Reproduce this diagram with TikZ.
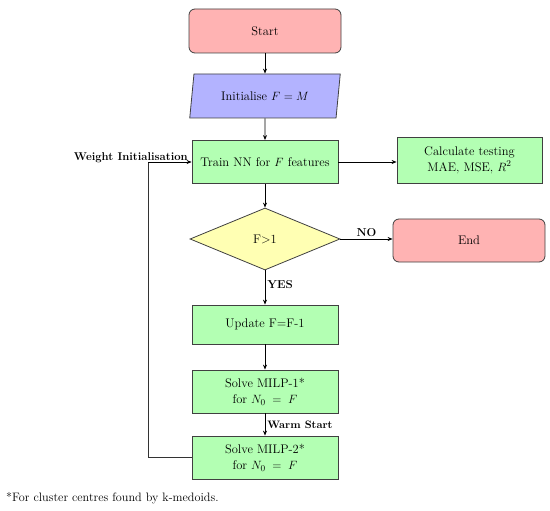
\documentclass[tikz,border=0pt]{standalone}
\usetikzlibrary{shapes.geometric,arrows.meta}
\definecolor{startred}{HTML}{FFB3B3}
\definecolor{ioblue}{HTML}{B3B3FF}
\definecolor{procgreen}{HTML}{B3FFB3}
\definecolor{decyellow}{HTML}{FFFFB3}
\begin{document}
\begin{tikzpicture}[x=1pt,y=-1pt,
  font=\fontsize{12.5}{16}\selectfont,
  every node/.style={inner sep=2pt},
  base/.style={draw=black!75,line width=0.8pt,align=center},
  term/.style={base,rounded corners=6pt,fill=startred,minimum width=152pt,minimum height=44pt},
  io/.style={base,trapezium,trapezium left angle=78,trapezium right angle=102,trapezium stretches=true,fill=ioblue,minimum width=152pt,minimum height=44pt},
  proc/.style={base,rectangle,fill=procgreen,minimum width=146pt,minimum height=43pt},
  dec/.style={base,diamond,fill=decyellow,aspect=2.4,minimum width=150pt,minimum height=62pt,inner sep=0pt},
  arr/.style={line width=0.8pt,-{Stealth[length=5pt,width=4pt]}},
  lbl/.style={font=\fontsize{11.5}{14}\selectfont\bfseries}
]
\useasboundingbox (0,0) rectangle (550,511);
\node[term] (start) at (265,31) {Start};
\node[io] (init) at (265,96) {Initialise $F = M$};
\node[proc] (train) at (265,162) {Train NN for $F$ features};
\node[proc,minimum width=145pt,minimum height=46pt] (calc) at (469.5,160) {Calculate testing\\MAE, MSE, $R^2$};
\node[dec] (dec) at (265,239) {F>1};
\node[term,minimum height=43pt] (end) at (469,240.5) {End};
\node[proc,minimum height=39pt] (upd) at (265,324.5) {Update F=F-1};
\node[proc] (m1) at (265,391.5) {Solve MILP-1*\\for $N_0 \;=\; F$};
\node[proc] (m2) at (265,457.5) {Solve MILP-2*\\for $N_0 \;=\; F$};
\coordinate (lb) at (148,457.5);
\coordinate (lt) at (148,162);
\draw[arr] (start) -- (init);
\draw[arr] (init) -- (train);
\draw[arr] (train.east) -- (train.east -| calc.west);
\draw[arr] (train) -- (dec);
\draw[arr] (dec.east) -- node[lbl,above] {NO} (end.west |- dec.east);
\draw[arr] (dec) -- node[lbl,right,pos=0.4] {YES} (upd);
\draw[arr] (upd) -- (m1);
\draw[arr] (m1) -- node[lbl,right,font=\fontsize{10.8}{12}\selectfont\bfseries] {Warm Start} (m2);
\draw[line width=0.6pt,black!80] (m2.west) -- (lb) -- (lt);
\draw[arr,line width=0.6pt] (lt) -- (train.west);
\node[lbl,anchor=south east,inner sep=1pt,font=\fontsize{11.3}{13}\selectfont\bfseries] (wi) at (189,164) {Weight Initialisation};
\node[anchor=west,font=\fontsize{12.2}{14}\selectfont] (foot) at (4,498) {*For cluster centres found by k-medoids.};
\end{tikzpicture}
\end{document}
